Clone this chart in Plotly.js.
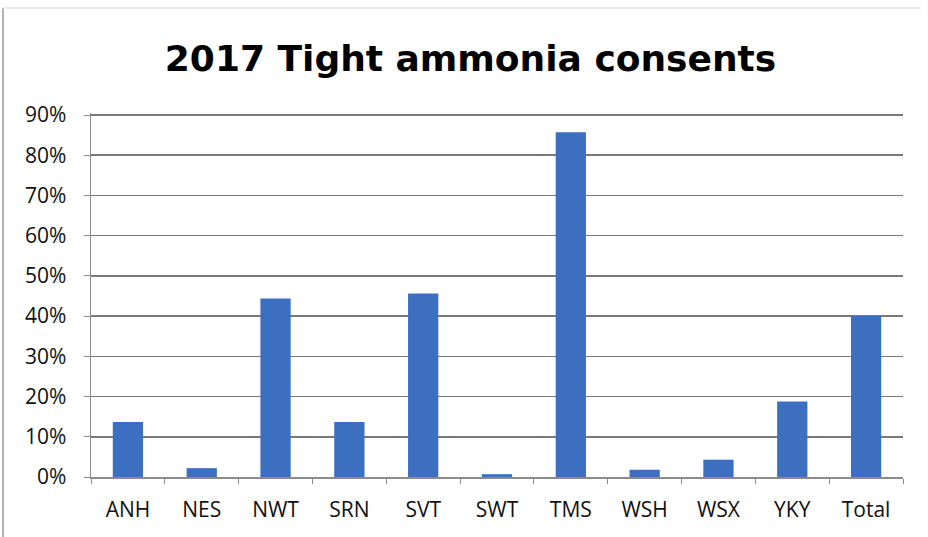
<!DOCTYPE html>
<html>
<head>
<meta charset="utf-8">
<script src="https://cdn.plot.ly/plotly-3.0.1.min.js"></script>
<style>
  html, body { margin: 0; padding: 0; background: #ffffff; }
  #chart { width: 928px; height: 537px; }
</style>
</head>
<body>
<div id="chart"></div>
<script>
const categories = ["ANH", "NES", "NWT", "SRN", "SVT", "SWT", "TMS", "WSH", "WSX", "YKY", "Total"];
const values = [0.137, 0.022, 0.444, 0.137, 0.456, 0.007, 0.857, 0.018, 0.043, 0.188, 0.400];
const yTickValues = [0, 0.1, 0.2, 0.3, 0.4, 0.5, 0.6, 0.7, 0.8, 0.9];
const yTickLabels = ["0%", "10%", "20%", "30%", "40%", "50%", "60%", "70%", "80%", "90%"];
const chartTitle = "2017 Tight ammonia consents";

const W = 928, H = 537;
const margin = {l: 91, r: 25, t: 113, b: 60};
const PW = W - margin.l - margin.r, PH = H - margin.t - margin.b;

const trace = {
  type: "bar",
  x: categories,
  y: values,
  marker: {color: "#3d6fc1", line: {width: 0}},
  hoverinfo: "x+y"
};

const layout = {
  width: W, height: H,
  margin: margin,
  paper_bgcolor: "#ffffff",
  plot_bgcolor: "#ffffff",
  showlegend: false,
  bargap: 0.59,
  title: {
    text: chartTitle,
    font: {family: "DejaVu Sans", size: 36, color: "#000000", weight: "bold"},
    x: 0.507, xanchor: "center",
    y: 1 - 58 / H, yanchor: "middle"
  },
  xaxis: {
    type: "category",
    showgrid: false,
    showline: true, linecolor: "#8c8c8c", linewidth: 1.5,
    ticks: "outside", ticklen: 5, tickcolor: "#8c8c8c",
    tickson: "boundaries",
    ticklabelstandoff: 13,
    tickfont: {family: "Open Sans", size: 21, color: "#111111"},
    automargin: false
  },
  yaxis: {
    range: [0, 0.905],
    tickvals: yTickValues,
    ticktext: yTickLabels,
    showgrid: true, gridcolor: "#7a7a7a", gridwidth: 1.5,
    showline: true, linecolor: "#8c8c8c", linewidth: 1.5,
    ticks: "outside", ticklen: 6, tickcolor: "#8c8c8c",
    ticklabelstandoff: 13,
    zeroline: false,
    tickfont: {family: "Open Sans", size: 21, color: "#111111"},
    automargin: false
  },
  shapes: [
    {type: "line", xref: "paper", yref: "paper",
     x0: -88 / PW, x1: -88 / PW,
     y0: -60 / PH, y1: 1 + 105 / PH,
     line: {color: "#9a9a9a", width: 1.5}},
    {type: "line", xref: "paper", yref: "paper",
     x0: -88 / PW, x1: 1 + 18 / PW,
     y0: 1 + 105 / PH, y1: 1 + 105 / PH,
     line: {color: "#e6e6e6", width: 1.5}}
  ]
};

Plotly.newPlot("chart", [trace], layout, {displayModeBar: false, staticPlot: true});
</script>
</body>
</html>
